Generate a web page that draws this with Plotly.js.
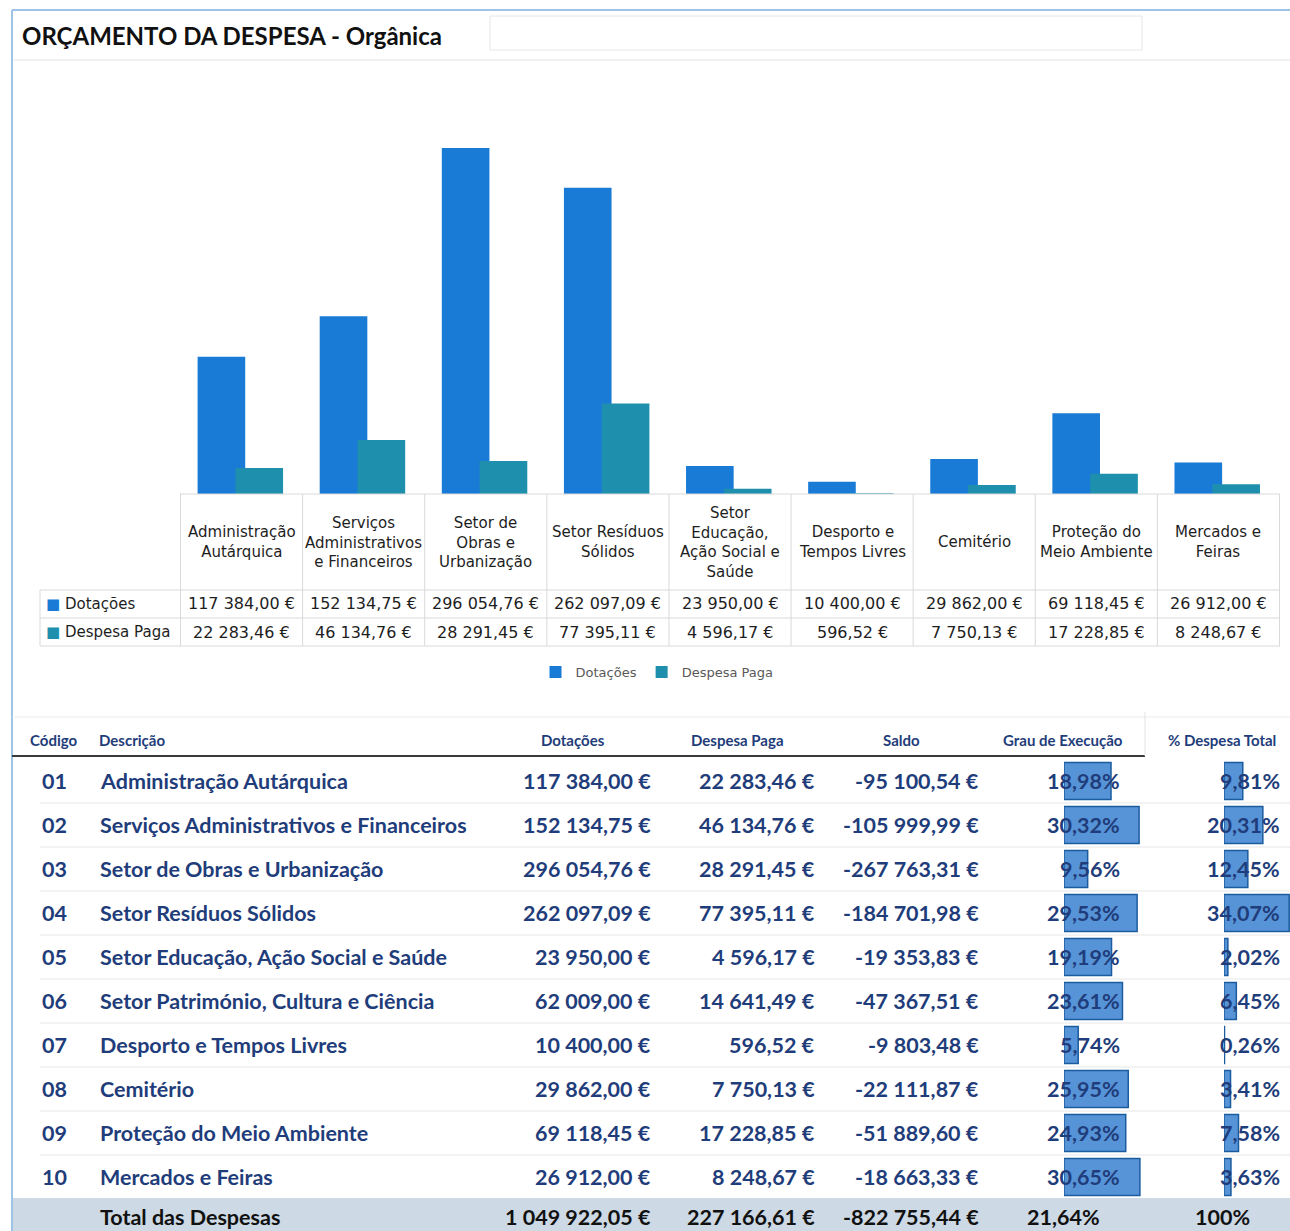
<!DOCTYPE html>
<html>
<head>
<meta charset="utf-8">
<script src="https://cdn.plot.ly/plotly-3.0.1.min.js"></script>
<style>
    body { margin: 0; background: #fff; }
    #chart { width: 1290px; height: 1231px; }
</style>
</head>
<body>
<div id="chart"></div>
<script>
// table rows
let codes = ['01', '02', '03', '04', '05', '06', '07', '08', '09', '10'];
let descricoes = [
    'Administração Autárquica',
    'Serviços Administrativos e Financeiros',
    'Setor de Obras e Urbanização',
    'Setor Resíduos Sólidos',
    'Setor Educação, Ação Social e Saúde',
    'Setor Património, Cultura e Ciência',
    'Desporto e Tempos Livres',
    'Cemitério',
    'Proteção do Meio Ambiente',
    'Mercados e Feiras'
];
let dotacoes = [117384.00, 152134.75, 296054.76, 262097.09, 23950.00, 62009.00, 10400.00, 29862.00, 69118.45, 26912.00];
let despesaPaga = [22283.46, 46134.76, 28291.45, 77395.11, 4596.17, 14641.49, 596.52, 7750.13, 17228.85, 8248.67];

// the column chart leaves out row 06
let chartCodes = ['01', '02', '03', '04', '05', '07', '08', '09', '10'];
let chartLabels = [
    'Administração<br>Autárquica',
    'Serviços<br>Administrativos<br>e Financeiros',
    'Setor de<br>Obras e<br>Urbanização',
    'Setor Resíduos<br>Sólidos',
    'Setor<br>Educação,<br>Ação Social e<br>Saúde',
    'Desporto e<br>Tempos Livres',
    'Cemitério',
    'Proteção do<br>Meio Ambiente',
    'Mercados e<br>Feiras'
];

let headers = ['Código', 'Descrição', 'Dotações', 'Despesa Paga', 'Saldo', 'Grau de Execução', '% Despesa Total'];

const W = 1290, H = 1231;
function px(x) { return x / W; }
function py(y) { return 1 - y / H; }

function fmtEur(v) {
    let neg = v < 0;
    let parts = Math.abs(v).toFixed(2).split('.');
    let intPart = parts[0].replace(/\B(?=(\d{3})+(?!\d))/g, ' ');
    return (neg ? '-' : '') + intPart + ',' + parts[1] + ' €';
}
function fmtPct(v) {
    let p = v * 100;
    if (Math.abs(p - Math.round(p)) < 1e-9) return Math.round(p) + '%';
    return p.toFixed(2).replace('.', ',') + '%';
}

let saldo = codes.map((c, i) => despesaPaga[i] - dotacoes[i]);
let totalDot = dotacoes.reduce((a, b) => a + b, 0);
let totalDesp = despesaPaga.reduce((a, b) => a + b, 0);
let grau = codes.map((c, i) => despesaPaga[i] / dotacoes[i]);
let share = codes.map((c, i) => despesaPaga[i] / totalDesp);

let chartDot = chartCodes.map(c => dotacoes[codes.indexOf(c)]);
let chartDesp = chartCodes.map(c => despesaPaga[codes.indexOf(c)]);

const blueDot = '#1a7bd6';
const tealDesp = '#1f8fae';
const navy = '#1f3d7a';
const gridGray = '#d9d9d9';

let tableFont = { family: 'DejaVu Sans', size: 15, color: '#1e1e1e' };
let valueFont = { family: 'DejaVu Sans', size: 16, color: '#1e1e1e' };
let rowFont = { family: 'Lato', size: 21.5, color: navy, weight: 'bold' };

let graphData = [
    {
        type: 'bar', name: 'Dotações',
        x: chartCodes, y: chartDot,
        offset: -0.36, width: 0.39,
        marker: { color: blueDot },
        xaxis: 'x', yaxis: 'y', hoverinfo: 'none'
    },
    {
        type: 'bar', name: 'Despesa Paga',
        x: chartCodes, y: chartDesp,
        offset: -0.05, width: 0.39,
        marker: { color: tealDesp },
        xaxis: 'x', yaxis: 'y', hoverinfo: 'none'
    },
    // data bars in the table
    {
        type: 'bar', orientation: 'h', showlegend: false,
        y: codes, x: grau.map(v => v * 100), width: 0.84,
        marker: { color: 'rgba(45,120,205,0.8)', line: { color: '#1b5c9e', width: 1.5 } },
        xaxis: 'x3', yaxis: 'y2', hoverinfo: 'none'
    },
    {
        type: 'bar', orientation: 'h', showlegend: false,
        y: codes, x: share.map(v => v * 100), width: 0.84,
        marker: { color: 'rgba(45,120,205,0.8)', line: { color: '#1b5c9e', width: 1.5 } },
        xaxis: 'x4', yaxis: 'y2', hoverinfo: 'none'
    }
];

let shapes = [];
let annotations = [];

// frame of the sheet
shapes.push({ type: 'line', xref: 'paper', yref: 'paper', x0: px(12), x1: px(1290), y0: py(10), y1: py(10), line: { color: '#9dc3e6', width: 2 } });
shapes.push({ type: 'line', xref: 'paper', yref: 'paper', x0: px(12), x1: px(12), y0: py(10), y1: py(1231), line: { color: '#9dc3e6', width: 2 } });
shapes.push({ type: 'line', xref: 'paper', yref: 'paper', x0: px(14), x1: px(1290), y0: py(60), y1: py(60), line: { color: '#e3e3e3', width: 1 } });
shapes.push({ type: 'rect', xref: 'paper', yref: 'paper', x0: px(490), x1: px(1142), y0: py(16), y1: py(50), line: { color: '#e6e6e6', width: 1 } });

annotations.push({
    xref: 'paper', yref: 'paper', x: px(20), y: py(35), xanchor: 'left', yanchor: 'middle',
    text: 'ORÇAMENTO DA DESPESA - Orgânica', showarrow: false,
    font: { family: 'Lato', size: 24, color: '#111', weight: 'bold' }
});

// data table under the column chart
let hLines = [[180, 494], [40, 590], [40, 618], [40, 646]];
hLines.forEach(h => {
    shapes.push({ type: 'line', xref: 'paper', yref: 'paper', x0: px(h[0]), x1: px(1280), y0: py(h[1]), y1: py(h[1]), line: { color: gridGray, width: 1 } });
});
shapes.push({ type: 'line', xref: 'paper', yref: 'paper', x0: px(40), x1: px(40), y0: py(590), y1: py(646), line: { color: gridGray, width: 1 } });
for (let i = -1; i < chartCodes.length; i++) {
    shapes.push({ type: 'line', xref: 'x', yref: 'paper', x0: i + 0.5, x1: i + 0.5, y0: py(494), y1: py(646), line: { color: gridGray, width: 1 } });
}
// numeric-looking category strings would be read as indexes, so place by index
chartCodes.forEach((c, i) => {
    annotations.push({ xref: 'x', yref: 'paper', x: i, y: py(542), text: chartLabels[i], showarrow: false, font: tableFont, align: 'center', yanchor: 'middle' });
    annotations.push({ xref: 'x', yref: 'paper', x: i, y: py(604), text: fmtEur(chartDot[i]), showarrow: false, font: valueFont, yanchor: 'middle' });
    annotations.push({ xref: 'x', yref: 'paper', x: i, y: py(632), text: fmtEur(chartDesp[i]), showarrow: false, font: valueFont, yanchor: 'middle' });
});
annotations.push({ xref: 'paper', yref: 'paper', x: px(44), y: py(604), xanchor: 'left', yanchor: 'middle', text: '<span style="color:' + blueDot + '">■</span> Dotações', showarrow: false, font: tableFont });
annotations.push({ xref: 'paper', yref: 'paper', x: px(44), y: py(632), xanchor: 'left', yanchor: 'middle', text: '<span style="color:' + tealDesp + '">■</span> Despesa Paga', showarrow: false, font: tableFont });

// lower table
shapes.push({ type: 'line', xref: 'paper', yref: 'paper', x0: px(12), x1: px(1290), y0: py(717), y1: py(717), line: { color: '#ececec', width: 1 } });
shapes.push({ type: 'line', xref: 'paper', yref: 'paper', x0: px(12), x1: px(1145), y0: py(756), y1: py(756), line: { color: '#3a3a3a', width: 2 } });
shapes.push({ type: 'line', xref: 'paper', yref: 'paper', x0: px(1145), x1: px(1145), y0: py(712), y1: py(756), line: { color: '#e3e3e3', width: 1 } });
for (let i = 1; i < codes.length; i++) {
    shapes.push({ type: 'line', xref: 'paper', yref: 'paper', x0: px(40), x1: px(1290), y0: py(759 + i * 44), y1: py(759 + i * 44), line: { color: '#e6e6e6', width: 1 } });
}
shapes.push({ type: 'rect', xref: 'paper', yref: 'paper', x0: px(13), x1: px(1290), y0: py(1198), y1: py(1231), fillcolor: '#cdd9e4', line: { width: 0 }, layer: 'below' });

let headerX = [28, 97, 573, 738, 901, 1063, 1222];
let headerAnchor = ['left', 'left', 'center', 'center', 'center', 'center', 'center'];
headers.forEach((h, i) => {
    annotations.push({
        xref: 'paper', yref: 'paper', x: px(headerX[i]), y: py(740), xanchor: headerAnchor[i], yanchor: 'middle',
        text: h, showarrow: false, font: { family: 'Lato', size: 15, color: navy, weight: 'bold' }
    });
});

codes.forEach((c, i) => {
    let cells = [
        [40, 'left', c],
        [98, 'left', descricoes[i]],
        [653, 'right', fmtEur(dotacoes[i])],
        [817, 'right', fmtEur(despesaPaga[i])],
        [981, 'right', fmtEur(saldo[i])],
        [1122, 'right', fmtPct(grau[i])],
        [1282, 'right', fmtPct(share[i])]
    ];
    cells.forEach(cell => {
        annotations.push({
            xref: 'paper', yref: 'y2', x: px(cell[0]), y: i, xanchor: cell[1], yanchor: 'middle',
            text: cell[2], showarrow: false, font: rowFont
        });
    });
});

let totalFont = { family: 'Lato', size: 21.5, color: '#111', weight: 'bold' };
let totals = [
    [98, 'left', 'Total das Despesas'],
    [653, 'right', fmtEur(totalDot)],
    [817, 'right', fmtEur(totalDesp)],
    [981, 'right', fmtEur(totalDesp - totalDot)],
    [1063, 'center', fmtPct(totalDesp / totalDot)],
    [1222, 'center', fmtPct(1)]
];
totals.forEach(t => {
    annotations.push({
        xref: 'paper', yref: 'paper', x: px(t[0]), y: py(1217), xanchor: t[1], yanchor: 'middle',
        text: t[2], showarrow: false, font: totalFont
    });
});

let layout = {
    width: W,
    height: H,
    margin: { l: 0, r: 0, t: 0, b: 0 },
    paper_bgcolor: '#ffffff',
    plot_bgcolor: 'rgba(0,0,0,0)',
    barmode: 'overlay',
    showlegend: true,
    legend: {
        orientation: 'h',
        x: px(657), xanchor: 'center',
        y: py(672), yanchor: 'middle',
        font: { family: 'DejaVu Sans', size: 13, color: '#595959' },
        itemwidth: 30
    },
    xaxis: {
        domain: [px(180), px(1280)], type: 'category',
        showticklabels: false, showgrid: false, zeroline: false, showline: false, ticks: ''
    },
    yaxis: {
        domain: [py(494), py(85)], range: [0, 350000],
        visible: false, showgrid: false
    },
    xaxis3: {
        domain: [px(1064), px(1142)], range: [0, 31.5], anchor: 'y2',
        visible: false, showgrid: false
    },
    xaxis4: {
        domain: [px(1224), px(1290)], range: [0, 34.5], anchor: 'y2',
        visible: false, showgrid: false
    },
    yaxis2: {
        domain: [py(1199), py(759)], type: 'category', range: [9.5, -0.5], anchor: 'x3',
        visible: false, showgrid: false
    },
    shapes: shapes,
    annotations: annotations
};

let options = {
    displayModeBar: false,
    staticPlot: true
};

Plotly.newPlot('chart', graphData, layout, options);
</script>
</body>
</html>
